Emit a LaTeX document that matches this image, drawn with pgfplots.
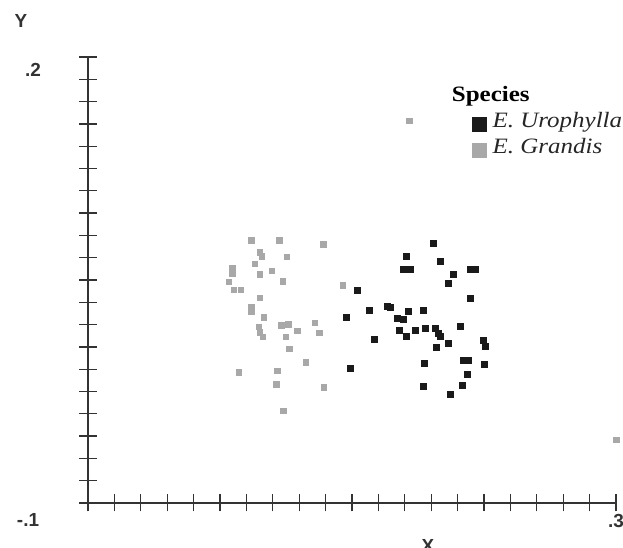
\documentclass[border=0pt]{standalone}
\usepackage{pgfplots}
\pgfplotsset{compat=1.18}
\usetikzlibrary{calc}
\usepackage{fontspec}
\setmainfont{Liberation Serif}
\newfontfamily\axfont{Liberation Sans}
\usepackage{graphicx}
\definecolor{urophylla}{HTML}{1A1A1A}
\definecolor{grandis}{HTML}{A8A8A8}
\definecolor{axisgray}{HTML}{333333}

% species scores
\pgfplotstableread{
x y
0.1618 0.0747
0.1411 0.0657
0.1388 0.0572
0.1441 0.0572
0.1669 0.0626
0.1897 0.0572
0.1935 0.0572
0.1766 0.0536
0.1730 0.0478
0.1040 0.0433
0.1892 0.0379
0.0954 0.0253
0.1132 0.0298
0.1264 0.0325
0.1289 0.0316
0.1428 0.0287
0.1340 0.0242
0.1386 0.0238
0.1538 0.0298
0.1167 0.0105
0.1360 0.0164
0.1411 0.0119
0.1479 0.0159
0.1555 0.0175
0.1631 0.0175
0.1656 0.0141
0.1669 0.0119
0.1821 0.0186
0.1732 0.0074
0.1639 0.0051
0.1994 0.0092
0.2011 0.0056
0.0990 -0.0094
0.1550 -0.0060
0.1846 -0.0038
0.1884 -0.0038
0.2004 -0.0065
0.1872 -0.0132
0.1834 -0.0206
0.1538 -0.0213
0.1745 -0.0267
}\urotable

\pgfplotstableread{
x y
0.0237 0.0769
0.0447 0.0769
0.0782 0.0742
0.0300 0.0688
0.0316 0.0661
0.0506 0.0655
0.0093 0.0581
0.0093 0.0547
0.0262 0.0608
0.0300 0.0540
0.0392 0.0561
0.0473 0.0493
0.0067 0.0487
0.0103 0.0433
0.0156 0.0433
0.0300 0.0379
0.0929 0.0466
0.0237 0.0318
0.0237 0.0285
0.0331 0.0251
0.0295 0.0184
0.0300 0.0150
0.0325 0.0117
0.0465 0.0197
0.0516 0.0204
0.0584 0.0157
0.0716 0.0211
0.0498 0.0117
0.0751 0.0144
0.0523 0.0036
0.0650 -0.0052
0.0141 -0.0119
0.0432 -0.0112
0.0427 -0.0200
0.0787 -0.0220
0.0478 -0.0381
0.1433 0.1570
0.3000 -0.0576
}\grantable

\begin{document}
\begin{tikzpicture}
\begin{axis}[
  scale only axis, width=528bp, height=446bp,
  xmin=-0.1, xmax=0.3, ymin=-0.1, ymax=0.2,
  clip=false,
  axis x line=bottom, axis y line=left,
  axis line style={-, line width=1.6bp, axisgray},
  xtick={-0.1,-0.08,-0.06,-0.04,-0.02,0,0.02,0.04,0.06,0.08,0.1,0.12,0.14,0.16,0.18,0.2,0.22,0.24,0.26,0.28,0.3},
  ytick={-0.1,-0.085,-0.07,-0.055,-0.04,-0.025,-0.01,0.005,0.02,0.035,0.05,0.065,0.08,0.095,0.11,0.125,0.14,0.155,0.17,0.185,0.2},
  xticklabels={}, yticklabels={},
  tick align=center, major tick length=17bp,
  tick style={line width=1.3bp, axisgray},
  legend cell align=left,
  legend style={at={(0.7273,0.8789)}, anchor=north west, draw=none, fill=none,
    inner xsep=0pt, inner ysep=0pt, row sep=5bp, column sep=0pt,
    nodes={inner sep=0pt, text height=16bp, text depth=5bp},
    font=\fontsize{22}{26}\selectfont\itshape, text=black!85},
  legend image code/.code={\fill[#1] (0bp,-10bp) rectangle (13.5bp,4.5bp); \path (20bp,0bp);},
]
\coordinate (sw) at (rel axis cs:0,0);
\addplot[only marks, mark=square*, mark size=3bp, color=urophylla] table {\urotable};
\addlegendentry{\scalebox{1.14}[1]{E. Urophylla}}
\addplot[only marks, mark=square*, mark size=2.7bp, color=grandis] table {\grantable};
\addlegendentry{\scalebox{1.14}[1]{E. Grandis}}
\end{axis}
% page frame: axis box corner sits 88bp from the left and 45bp from the bottom
\pgfresetboundingbox
\begin{scope}[shift={($(sw)+(-88bp,-45bp)$)}, x=1bp, y=1bp]
\path[use as bounding box] (0,0) rectangle (623,548);
\node[anchor=base west, inner sep=0pt, font=\fontsize{22}{26}\selectfont\bfseries] at (451.7,446) {\scalebox{1.14}[1]{Species}};
\begin{scope}[every node/.style={inner sep=0pt, text=black!80, font=\axfont\bfseries\fontsize{19}{22}\selectfont}]
\node at (21,527) {Y};
\node at (33,478) {.2};
\node at (28,28) {-.1};
\node at (616,27) {.3};
\node[anchor=north] at (428,9) {X};
\end{scope}
\end{scope}
\end{tikzpicture}
\end{document}
